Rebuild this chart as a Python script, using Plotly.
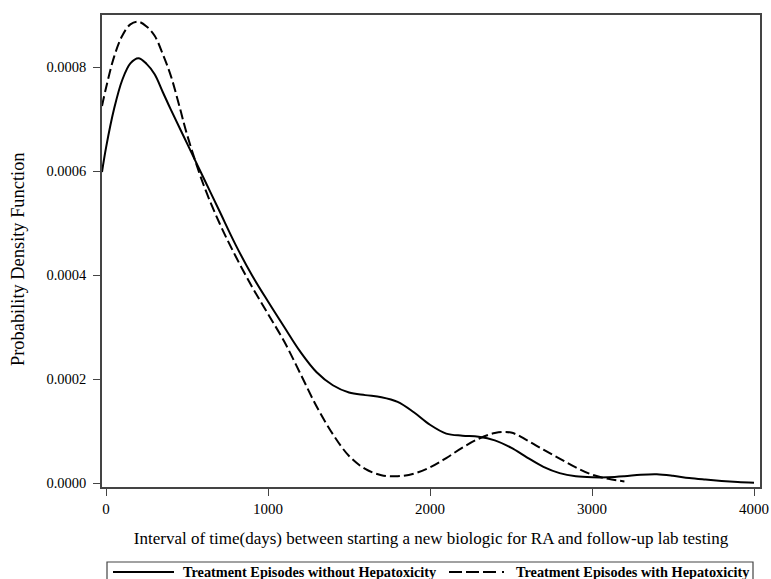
import plotly.graph_objects as go

# Data (kernel density estimates)
x_without = [-25, 0, 50, 100, 150, 200, 250, 300, 350, 400, 500, 600, 700, 800, 900, 1000,
             1100, 1200, 1300, 1400, 1500, 1600, 1700, 1800, 1900, 2000, 2100, 2200, 2300,
             2400, 2500, 2600, 2700, 2800, 2900, 3000, 3100, 3200, 3300, 3400, 3500, 3600,
             3700, 3800, 3900, 4000]
y_without = [0.000598, 0.000645, 0.000720, 0.000775, 0.000807, 0.000817, 0.000806, 0.000786,
             0.000752, 0.000718, 0.000653, 0.000588, 0.000523, 0.000458, 0.000400, 0.000349,
             0.000300, 0.000252, 0.000213, 0.000188, 0.000174, 0.000169, 0.000165, 0.000156,
             0.000136, 0.000112, 0.000095, 0.000091, 0.000089, 0.000082, 0.000068, 0.000049,
             0.000031, 0.000019, 0.000013, 0.000011, 0.000011, 0.000013, 0.000016, 0.000017,
             0.000014, 0.0000095, 0.0000065, 0.000004, 0.000002, 0.0000005]

x_with = [-25, 0, 50, 100, 150, 200, 250, 300, 350, 400, 450, 500, 600, 700, 800, 900, 1000,
          1100, 1200, 1300, 1400, 1500, 1600, 1700, 1800, 1900, 2000, 2100, 2200, 2300, 2400,
          2500, 2600, 2700, 2800, 2900, 3000, 3100, 3200]
y_with = [0.000725, 0.000760, 0.000820, 0.000860, 0.000882, 0.000887, 0.000878, 0.000860,
          0.000825, 0.000783, 0.000728, 0.000670, 0.000575, 0.000500, 0.000436, 0.000378,
          0.000325, 0.000272, 0.000210, 0.000147, 0.000094, 0.000052, 0.000027, 0.000015,
          0.000013, 0.000018, 0.000030, 0.000048, 0.000068, 0.000085, 0.000096, 0.000097,
          0.000082, 0.000064, 0.000047, 0.000030, 0.000016, 0.000008, 0.000003]

x_ticks = [0, 1000, 2000, 3000, 4000]
y_ticks = [0.0, 0.0002, 0.0004, 0.0006, 0.0008]

name_without = "Treatment Episodes without Hepatoxicity"
name_with = "Treatment Episodes with Hepatoxicity"
x_title = "Interval of time(days) between starting a new biologic for RA and follow-up lab testing"
y_title = "Probability Density Function"

serif = "Liberation Serif, Times New Roman, serif"
frame = "#444"

fig = go.Figure()
fig.add_trace(go.Scatter(x=x_without, y=y_without, mode="lines", name=name_without,
                         line=dict(color="black", width=2, shape="spline", smoothing=1.0)))
fig.add_trace(go.Scatter(x=x_with, y=y_with, mode="lines", name=name_with,
                         line=dict(color="black", width=2, shape="spline", smoothing=1.0,
                                   dash="10px,4px")))

axis_common = dict(showline=True, linecolor=frame, linewidth=1.5, mirror=True,
                   ticks="outside", ticklen=7, tickwidth=1.2, tickcolor=frame,
                   showgrid=False, zeroline=False, automargin=False)

fig.update_xaxes(range=[-25, 4037], tickvals=x_ticks, ticktext=[str(v) for v in x_ticks],
                 tickfont=dict(family=serif, size=15, color="black"),
                 title=dict(text=x_title, font=dict(family=serif, size=17, color="black"), standoff=16),
                 **axis_common)
fig.update_yaxes(range=[-0.0000077, 0.0009], tickvals=y_ticks, tickformat=".4f",
                 tickfont=dict(family=serif, size=14.5, color="black"), ticklabelstandoff=4,
                 **axis_common)

# Hand-drawn legend box below the plot (paper coordinates; plot area spans 658 x 472 px)
def px_x(p):
    return (p - 102) / 658.0

def px_y(p):
    return (487 - p) / 472.0

legend_y = px_y(572)
shapes = [
    dict(type="rect", xref="paper", yref="paper", x0=px_x(107), x1=px_x(753),
         y0=px_y(562), y1=px_y(600), line=dict(color=frame, width=1.2), fillcolor="white"),
    dict(type="line", xref="paper", yref="paper", x0=px_x(113), x1=px_x(174),
         y0=legend_y, y1=legend_y, line=dict(color="black", width=2)),
    dict(type="line", xref="paper", yref="paper", x0=px_x(449), x1=px_x(508),
         y0=legend_y, y1=legend_y,
         line=dict(color="black", width=2, dash="13px,4px,13px,4px,13px,6px,2px,100px")),
]
annotations = [
    dict(xref="paper", yref="paper", x=px_x(181), y=legend_y, xanchor="left", yanchor="middle",
         text=name_without, showarrow=False,
         font=dict(family=serif, size=14.3, color="black", weight="bold")),
    dict(xref="paper", yref="paper", x=px_x(514), y=legend_y, xanchor="left", yanchor="middle",
         text=name_with, showarrow=False,
         font=dict(family=serif, size=14.3, color="black", weight="bold")),
    dict(xref="paper", yref="paper", x=px_x(18), y=px_y(259), xanchor="center", yanchor="middle",
         text=y_title, textangle=-90, showarrow=False,
         font=dict(family=serif, size=18.4, color="black")),
]

fig.update_layout(
    width=771, height=579,
    margin=dict(l=102, r=11, t=15, b=92, autoexpand=False),
    paper_bgcolor="white", plot_bgcolor="white",
    showlegend=False,
    shapes=shapes,
    annotations=annotations,
)

# Remove the default 8 px page margin so the figure fills the window exactly.
fig.write_html("out.html",
               config={"displayModeBar": False},
               post_script="document.body.style.margin='0';document.body.style.overflow='hidden';")
